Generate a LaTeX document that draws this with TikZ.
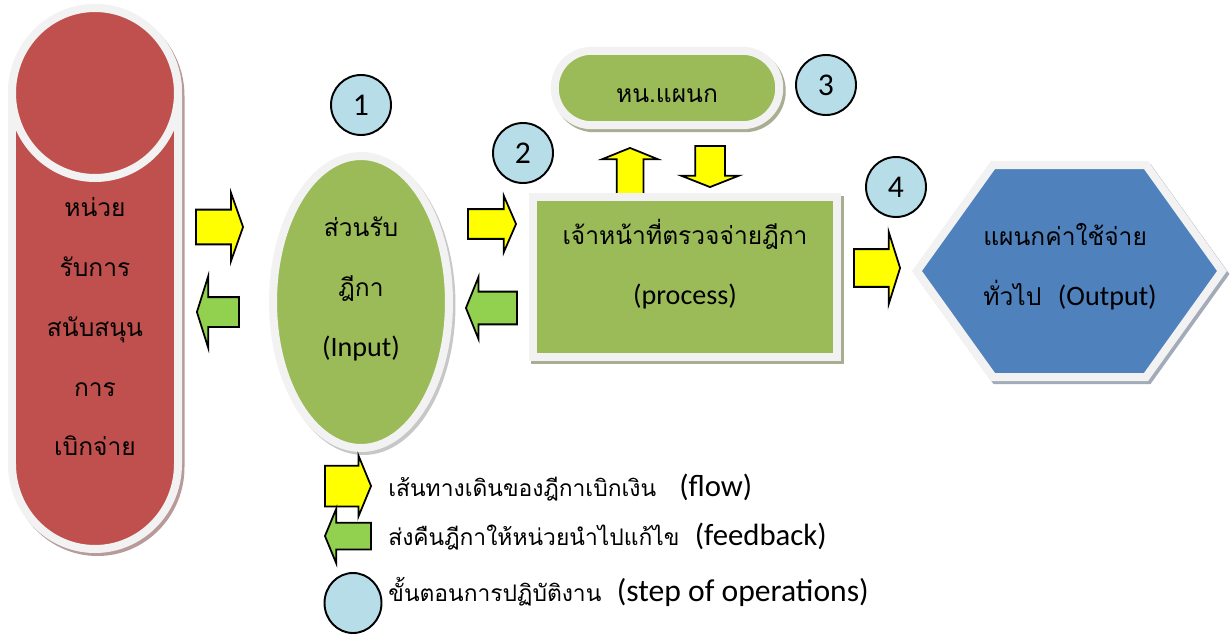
\documentclass[tikz,border=0pt]{standalone}
\usepackage{fontspec}
\setmainfont{Carlito}
\newfontfamily\thaifont[Script=Thai]{Loma}
\usepackage{tikz}
\usetikzlibrary{positioning, shapes.geometric, shapes.arrows}
\definecolor{unitred}{HTML}{C0504D}
\definecolor{unitshadow}{HTML}{B89A9A}
\definecolor{boxgreen}{HTML}{9BBB59}
\definecolor{greenshadow}{HTML}{A9AE93}
\definecolor{outblue}{HTML}{4F81BD}
\definecolor{blueshadow}{HTML}{A3AAB8}
\definecolor{stepblue}{HTML}{B7DEE8}
\definecolor{flowyellow}{HTML}{FFFF00}
\definecolor{backgreen}{HTML}{92D050}
\definecolor{rim}{HTML}{F2F2F2}
\newcommand\en[1]{{\rmfamily\fontsize{16}{34}\selectfont #1}}

\begin{document}
\begin{tikzpicture}[x=0.02cm, y=-0.02cm,
    rimmed/.style={draw=rim, line width=0.16cm},
    castshadow/.style={preaction={fill=#1, draw=#1, line width=0.16cm,
        transform canvas={shift={(0.05cm,-0.06cm)}}}},
    thai/.style={font=\thaifont\fontsize{14}{34}\selectfont, align=center},
    stepno/.style={circle, draw, line width=1.1pt, fill=stepblue,
        minimum size=1.2cm, inner sep=0pt, font=\fontsize{18}{20}\selectfont},
    arrdims/.style n args={4}{minimum height=#1, inner ysep=#2,
        single arrow head extend=#3, single arrow tip angle=#4},
    vdims/.style n args={4}{arrdims={#1}{0pt}{#3}{#4}, inner xsep=#2},
    flow/.style={single arrow, draw, line width=1pt, fill=flowyellow,
        anchor=tip, inner xsep=0pt, text height=0pt, text depth=0pt},
    back/.style={flow, fill=backgreen, shape border rotate=180},
    legendtxt/.style={anchor=west, inner sep=0pt,
        font=\thaifont\fontsize{13}{16}\selectfont}]
  \useasboundingbox (0,0) rectangle (1230,635);

  % supporting unit, an upright can
  \filldraw[fill=unitred, rimmed, castshadow=unitshadow] (12,93) -- (12,464)
    arc[start angle=180, end angle=0, x radius=83, y radius=85] -- (178,93)
    arc[start angle=0, end angle=-180, x radius=83, y radius=85] -- cycle;
  \filldraw[fill=unitred, rimmed] (95,93) ellipse[x radius=83, y radius=85];
  \node[thai] (unit) at (95,327) {หน่วย\\รับการ\\สนับสนุน\\การ\\เบิกจ่าย};

  % flow and feedback arrows
  \node[flow, arrdims={0.94cm}{0.33cm}{0.34cm}{141}] (f1) at (244,227) {};
  \node[back, arrdims={0.84cm}{0.28cm}{0.42cm}{145}] (b1) at (196,312) {};
  \node[flow, arrdims={0.96cm}{0.28cm}{0.27cm}{133}] (f2) at (517,224) {};
  \node[back, arrdims={1.02cm}{0.31cm}{0.29cm}{136}] (b2) at (465,308) {};
  \node[flow, shape border rotate=90, vdims={0.92cm}{0.25cm}{0.29cm}{136}] (up) at (630,147) {};
  \node[flow, shape border rotate=270, vdims={0.82cm}{0.28cm}{0.28cm}{137}] (down) at (710,188) {};
  \node[flow, arrdims={0.92cm}{0.36cm}{0.34cm}{145}] (f3) at (901,268) {};

  % main stages
  \node[ellipse, fill=boxgreen, rimmed, castshadow=black!22, minimum width=3.52cm,
        minimum height=5.84cm, inner sep=0pt, thai, text depth=0.62cm] (input) at (361,302)
        {ส่วนรับ\\ฎีกา\\\en{(Input)}};
  \node[rectangle, rounded corners=0.74cm, fill=boxgreen, rimmed, castshadow=greenshadow,
        minimum width=4.49cm, minimum height=1.49cm, thai, text height=0.57cm] (head)
        at (667,88) {หน.แผนก};
  \node[rectangle, fill=boxgreen, rimmed, castshadow=greenshadow, minimum width=6.1cm,
        minimum height=3.19cm, thai, text depth=0.62cm] (proc) at (685,277)
        {เจ้าหน้าที่ตรวจจ่ายฎีกา\\\en{(process)}};
  \filldraw[fill=outblue, rimmed, castshadow=blueshadow] (917,271) -- (993,165)
    -- (1146,165) -- (1222,271) -- (1146,377) -- (993,377) -- cycle;
  \node[thai, align=left, anchor=west, inner xsep=0pt] (output) at (983,267)
        {แผนกค่าใช้จ่าย\\ทั่วไป\ \ \en{(Output)}};

  % step numbers
  \node[stepno] (s1) at (361,105) {1};
  \node[stepno] (s2) at (523,153) {2};
  \node[stepno] (s3) at (826,85) {3};
  \node[stepno] (s4) at (896,187) {4};

  % key
  \node[flow, arrdims={0.92cm}{0.39cm}{0.2cm}{135}] (keyflow) at (372,486) {};
  \node[back, arrdims={0.92cm}{0.25cm}{0.28cm}{135}] (keyback) at (324,536) {};
  \node[ellipse, draw, line width=1.1pt, fill=stepblue, minimum width=1.14cm,
        minimum height=1.2cm] (keystep) at (353,603) {};
  \node[legendtxt] (flowtxt) at (388,488)
        {เส้นทางเดินของฎีกาเบิกเงิน\ \ \ {\rmfamily\fontsize{17.5}{20}\selectfont(flow)}};
  \node[legendtxt] (backtxt) at (flowtxt.west |- 0,537)
        {ส่งคืนฎีกาให้หน่วยนำไปแก้ไข\ \ {\rmfamily\fontsize{17.5}{20}\selectfont(feedback)}};
  \node[legendtxt] (steptxt) at (flowtxt.west |- 0,592)
        {ขั้นตอนการปฏิบัติงาน\ \ {\rmfamily\fontsize{18}{20}\selectfont(step of operations)}};
\end{tikzpicture}
\end{document}
